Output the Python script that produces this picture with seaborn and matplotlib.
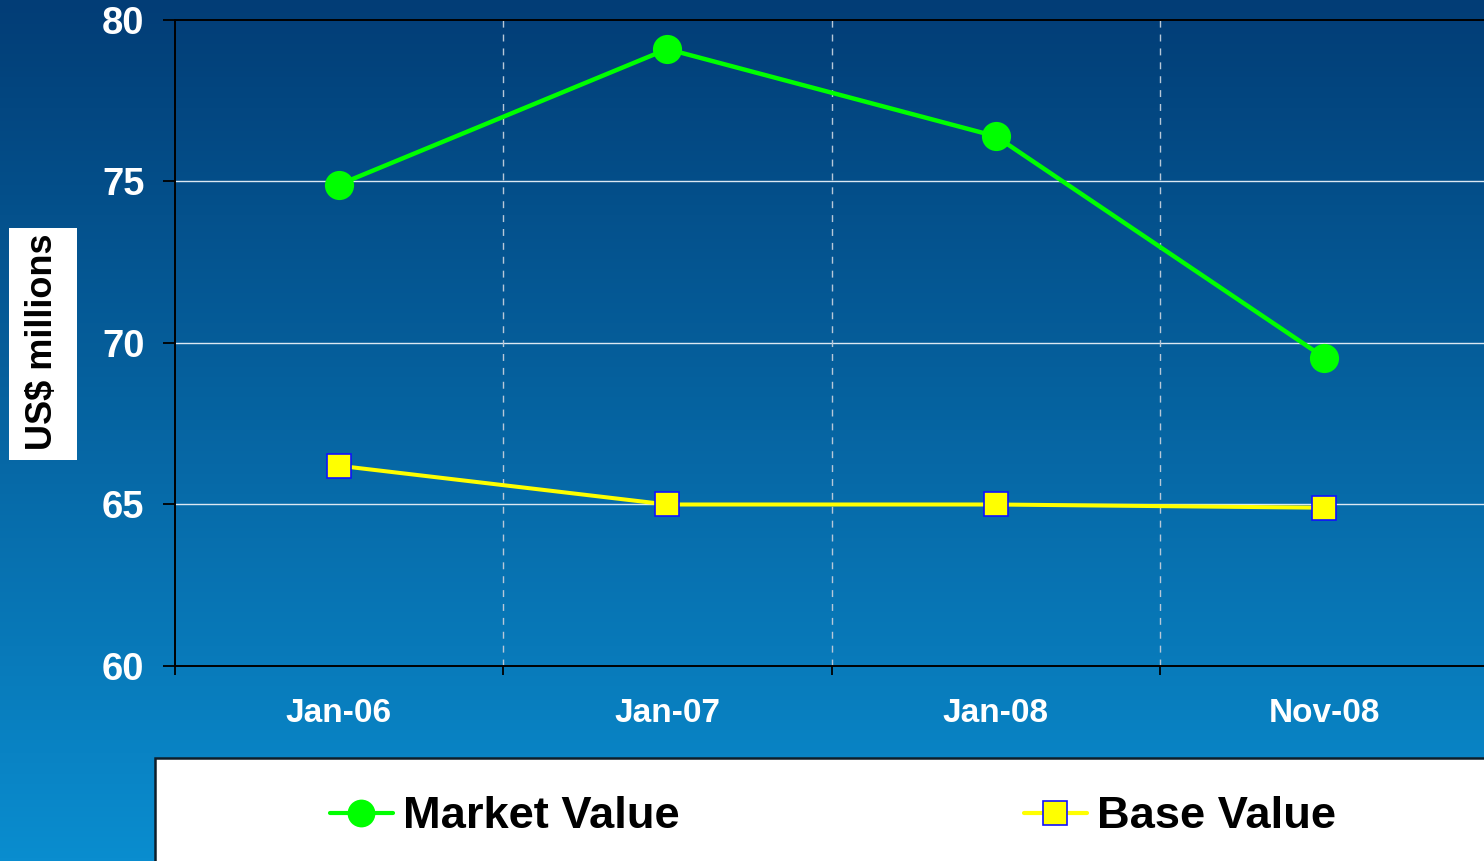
import numpy as np
import pandas as pd
import matplotlib
matplotlib.use("Agg")
import matplotlib.pyplot as plt
from matplotlib.colors import LinearSegmentedColormap
from matplotlib.patches import Rectangle
from matplotlib.lines import Line2D
import seaborn as sns

categories = ["Jan-06", "Jan-07", "Jan-08", "Nov-08"]
market_value = [74.9, 79.1, 76.4, 69.55]
base_value = [66.2, 65.0, 65.0, 64.9]
y_ticks = [60, 65, 70, 75, 80]

sns.set_theme(style="white")
plt.rcParams['font.family'] = ['Liberation Sans', 'DejaVu Sans']

W, H = 1484, 861
fig = plt.figure(figsize=(W / 100, H / 100), dpi=100)

# gradient background
bg = fig.add_axes([0, 0, 1, 1], zorder=-10)
cmap = LinearSegmentedColormap.from_list("bg", ["#023d76", "#0a8dcf"])
grad = np.linspace(0, 1, 256).reshape(-1, 1)
bg.imshow(grad, aspect="auto", cmap=cmap, extent=[0, 1, 0, 1], origin="upper")
bg.set_axis_off()

# main axes
left = 174.5 / W
bottom = (H - 666) / H
top = (H - 20) / H
width = 1314 / W
ax = fig.add_axes([left, bottom, width, top - bottom])
ax.patch.set_alpha(0)

x = np.arange(len(categories))

sns.lineplot(x=x, y=market_value, ax=ax, color="#00ff00", lw=3.2,
             marker="o", markersize=21, markeredgewidth=0, zorder=5, legend=False)
sns.lineplot(x=x, y=base_value, ax=ax, color="#ffff00", lw=2.9,
             marker="s", markersize=17.5, markerfacecolor="#ffff00",
             markeredgecolor="#1010ff", markeredgewidth=1.2, zorder=5, legend=False)

ax.set_xlim(-0.5, 3.5)
ax.set_ylim(60, 80)
ax.set_yticks(y_ticks)
ax.set_yticklabels([str(v) for v in y_ticks], color="white", fontsize=27.5, fontweight="bold")
ax.set_xticks(x)
ax.set_xticklabels(categories, color="white", fontsize=24, fontweight="bold")
ax.tick_params(axis="x", which="major", length=0, pad=23)
ax.set_xticks([-0.5, 0.5, 1.5, 2.5], minor=True)
ax.tick_params(axis="x", which="minor", length=6.5, width=1.3, color="black", direction="out", bottom=True)
ax.tick_params(axis="y", length=8.6, width=1.3, color="black", direction="out", left=True, pad=13)

for yv in [65, 70, 75]:
    ax.axhline(yv, color="#dce8f2", lw=1.0, zorder=1)
for xv in [0.5, 1.5, 2.5]:
    ax.axvline(xv, color="#b8c8d8", lw=1.0, ls=(0, (5, 5)), zorder=1)

for s in ["left", "top", "bottom", "right"]:
    ax.spines[s].set_color("black")
    ax.spines[s].set_linewidth(1.4)
ax.grid(False)
ax.set_xlabel("")
ax.set_ylabel("")

# y-axis label in a white box
fig.patches.append(Rectangle((9 / W, (H - 460) / H), 68 / W, 232 / H,
                             transform=fig.transFigure, fc="white", ec="none", zorder=1))
fig.text(43 / W, (H - 342) / H, "US$ millions", rotation=90, ha="center", va="center",
         fontsize=26, fontweight="bold", color="black", zorder=2)

# legend box
fig.patches.append(Rectangle((155 / W, -0.01), 1.0, (H - 758) / H + 0.01,
                             transform=fig.transFigure, fc="white", ec="#0d1e2a", lw=1.8, zorder=1))

handles = [
    Line2D([], [], color="#00ff00", lw=3.0, marker="o", markersize=20, markeredgewidth=0),
    Line2D([], [], color="#ffff00", lw=3.0, marker="s", markersize=17,
           markerfacecolor="#ffff00", markeredgecolor="#1010ff", markeredgewidth=1.2),
]
leg = fig.legend(handles, ["Market Value", "Base Value"], loc="center left",
                 bbox_to_anchor=(330 / W, (H - 817) / H), ncol=2, frameon=False,
                 prop=dict(family=["Liberation Sans", "DejaVu Sans"], weight="bold", size=32.6),
                 handlelength=1.39, handletextpad=0.22, columnspacing=7.6,
                 borderpad=0, borderaxespad=0, labelcolor="black")
leg.set_zorder(5)

fig.savefig("out.png", dpi=100)
